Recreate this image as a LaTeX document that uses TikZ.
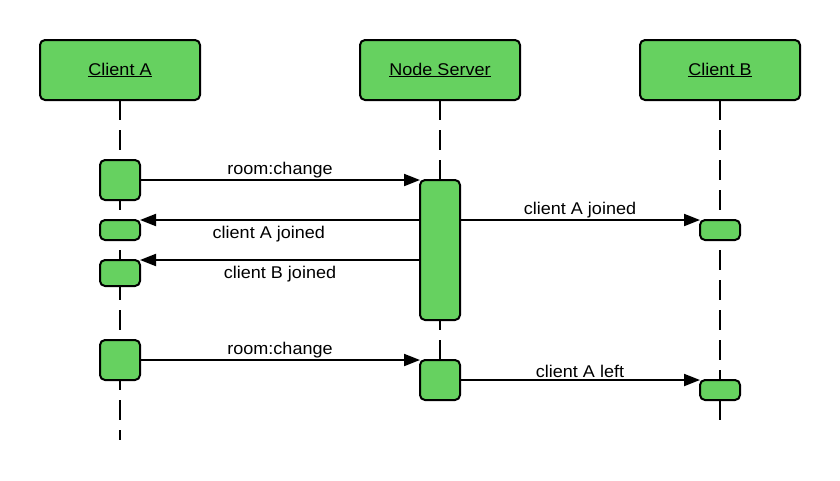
\documentclass[tikz,border=0pt]{standalone}
\usepackage{fontspec}
\setmainfont{Liberation Sans}
\newfontfamily\labfont[FakeStretch=1.06]{Liberation Sans}
\usetikzlibrary{arrows.meta}
\definecolor{boxgreen}{RGB}{102,209,96}
\tikzset{
  every node/.style={font=\labfont\fontsize{17}{20}\selectfont, outer sep=0pt},
  header/.style={draw=black, line width=2pt, fill=boxgreen, rounded corners=5pt, minimum width=160pt, minimum height=60pt, inner sep=0pt},
  actbox/.style={draw=black, line width=2pt, fill=boxgreen, rounded corners=5pt, minimum width=40pt, inner sep=0pt},
  lifeline/.style={line width=2pt, dash pattern=on 20pt off 10pt},
  msg/.style={line width=2pt, -{Triangle[length=16pt,width=12pt]}},
  msglabel/.style={inner sep=0pt, fill=none}
}
\begin{document}
\begin{tikzpicture}[x=1pt,y=-1pt]
\useasboundingbox (0,0) rectangle (840,480);
% headers
\node[header] (ca) at (120,70) {\underline{Client A}};
\node[header] (ns) at (440,70) {\underline{Node Server}};
\node[header] (cb) at (720,70) {\underline{Client B}};
% lifeline ends
\coordinate (caend) at (120,440);
\coordinate (nsend) at (440,385);
\coordinate (cbend) at (720,420);
\draw[lifeline] (ca.south) -- (caend);
\draw[lifeline] (ns.south) -- (nsend);
\draw[lifeline] (cb.south) -- (cbend);
% activation boxes
\node[actbox, minimum height=40pt] (a1) at (120,180) {};
\node[actbox, minimum height=20pt] (a2) at (120,230) {};
\node[actbox, minimum height=26pt] (a3) at (120,273) {};
\node[actbox, minimum height=140pt] (s1) at (440,250) {};
\node[actbox, minimum height=20pt] (b1) at (720,230) {};
\node[actbox, minimum height=40pt] (a4) at (120,360) {};
\node[actbox, minimum height=40pt] (s2) at (440,380) {};
\node[actbox, minimum height=20pt] (b2) at (720,390) {};
% messages
\draw[msg] (a1.east) -- (s1.north west) node[msglabel, midway, above=2pt] {room:change};
\draw[msg] (s1.west |- a2.north east) -- (a2.north east) node[msglabel, pos=0.54, below=6pt] {client A joined};
\draw[msg] (s1.west |- a3.north east) -- (a3.north east) node[msglabel, pos=0.5, below=6pt] {client B joined};
\draw[msg] (s1.east |- b1.north west) -- (b1.north west) node[msglabel, midway, above=2pt] {client A joined};
\draw[msg] (a4.east) -- (s2.north west) node[msglabel, midway, above=2pt] {room:change};
\draw[msg] (s2.east) -- (b2.north west) node[msglabel, midway, above=2pt] {client A left};
\end{tikzpicture}
\end{document}
